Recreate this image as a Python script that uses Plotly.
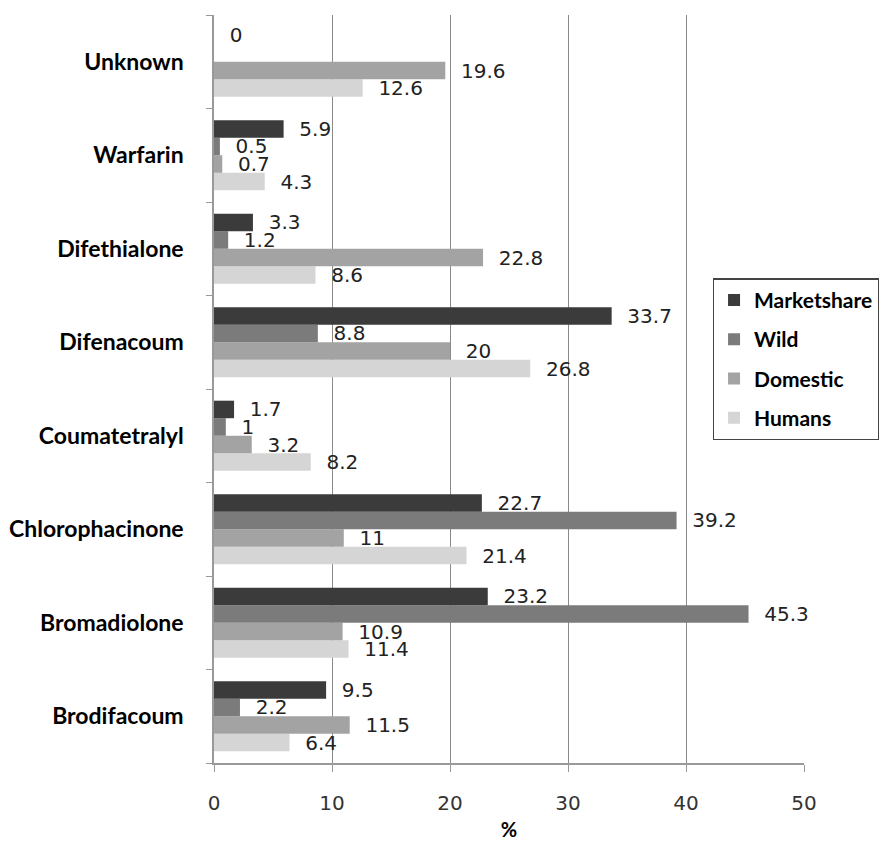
import plotly.graph_objects as go

categories = ["Brodifacoum", "Bromadiolone", "Chlorophacinone", "Coumatetralyl",
              "Difenacoum", "Difethialone", "Warfarin", "Unknown"]
marketshare = [9.5, 23.2, 22.7, 1.7, 33.7, 3.3, 5.9, 0]
wild = [2.2, 45.3, 39.2, 1, 8.8, 1.2, 0.5, None]
domestic = [11.5, 10.9, 11, 3.2, 20, 22.8, 0.7, 19.6]
humans = [6.4, 11.4, 21.4, 8.2, 26.8, 8.6, 4.3, 12.6]
x_ticks = [0, 10, 20, 30, 40, 50]

series = [
    ("Humans", humans, "#d5d5d5", 4),
    ("Domestic", domestic, "#a3a3a3", 3),
    ("Wild", wild, "#7b7b7b", 2),
    ("Marketshare", marketshare, "#3b3b3b", 1),
]

fig = go.Figure()
for name, vals, color, rank in series:
    fig.add_trace(go.Bar(
        y=categories, x=vals, name=name, orientation="h",
        marker=dict(color=color, line=dict(width=0)),
        text=["" if v is None else f"\u00a0\u00a0{v}" for v in vals],
        textposition="outside", constraintext="none", cliponaxis=False,
        textfont=dict(family="DejaVu Sans", size=20, color="#222222"),
        legendgroup=name, legendrank=rank,
    ))

# The page body adds an 8px margin, so the figure is 8px smaller and shifted.
fig.update_layout(
    width=879, height=833,
    margin=dict(l=206, r=83, t=7, b=78),
    paper_bgcolor="white", plot_bgcolor="white",
    barmode="group", bargap=0.25, bargroupgap=0,
    showlegend=True,
    legend=dict(
        x=0.845, y=0.648, xanchor="left", yanchor="top",
        traceorder="grouped", tracegroupgap=9,
        font=dict(family="Lato", size=21, color="black", weight="bold"),
        bgcolor="white", bordercolor="#444444", borderwidth=1.5,
        itemwidth=30,
    ),
    xaxis=dict(
        range=[0, 50], tickvals=x_ticks, ticktext=[str(t) for t in x_ticks],
        showgrid=True, gridcolor="#8a8a8a", gridwidth=1.2,
        zeroline=False, showline=True, linecolor="#999999", linewidth=1.5,
        ticks="outside", ticklen=7, tickcolor="#999999",
        tickfont=dict(family="DejaVu Sans", size=20, color="#333333"),
        ticklabelstandoff=14, automargin=False,
        title=dict(text="<b>%</b>", font=dict(family="Lato", size=20, color="black"), standoff=13),
    ),
    yaxis=dict(
        categoryorder="array", categoryarray=categories,
        showline=True, linecolor="#999999", linewidth=1.5,
        ticks="outside", ticklen=6, tickcolor="#999999", tickson="boundaries",
        showgrid=False, zeroline=False, automargin=False,
        tickfont=dict(family="Lato", size=23, color="black", weight="bold"),
        ticklabelstandoff=24,
    ),
)

fig.write_html("out.html")
